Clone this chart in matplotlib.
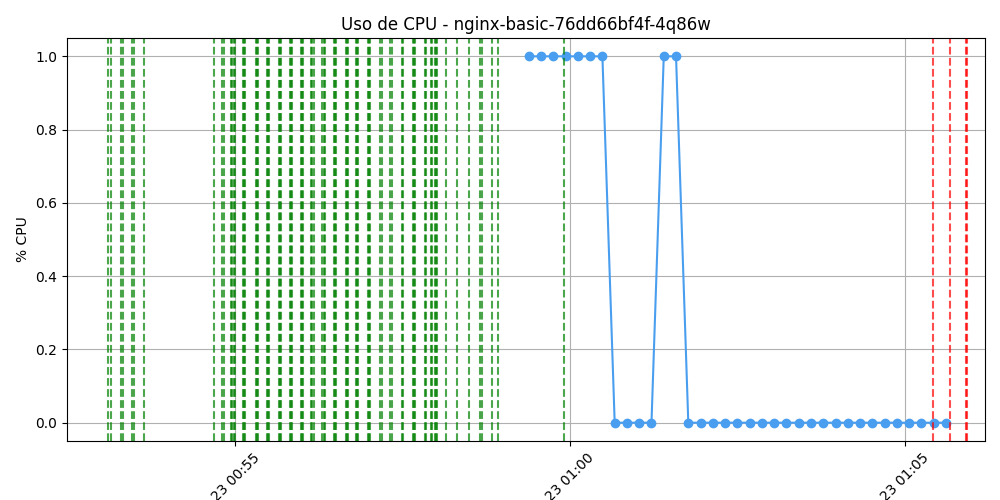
import matplotlib
matplotlib.use("Agg")
import matplotlib.pyplot as plt
import pandas as pd

# CPU samples (one every ~11 s)
t_start = "2024-01-23 00:59:23"
n_samples = 35
cpu = [1, 1, 1, 1, 1, 1, 1,
       0, 0, 0, 0,
       1, 1,
       0, 0, 0, 0, 0, 0, 0, 0, 0, 0, 0, 0, 0, 0, 0, 0, 0, 0, 0, 0, 0, 0]

# event markers (several events can fall within a second or two)
green_events = [
    "00:53:06", "00:53:08", "00:53:17", "00:53:19", "00:53:27", "00:53:29", "00:53:38",
    "00:54:41", "00:54:48", "00:54:50",
    "00:54:56", "00:54:57", "00:54:59", "00:55:00",
    "00:55:07", "00:55:08", "00:55:09",
    "00:55:18", "00:55:19", "00:55:20",
    "00:55:28", "00:55:29", "00:55:30",
    "00:55:39", "00:55:40", "00:55:41",
    "00:55:49", "00:55:50", "00:55:51",
    "00:55:59", "00:56:00", "00:56:01",
    "00:56:08", "00:56:09", "00:56:10",
    "00:56:18", "00:56:19", "00:56:20",
    "00:56:28", "00:56:29", "00:56:30",
    "00:56:39", "00:56:40", "00:56:41",
    "00:56:48", "00:56:49", "00:56:50",
    "00:56:59", "00:57:00", "00:57:01",
    "00:57:10", "00:57:11",
    "00:57:19", "00:57:20",
    "00:57:29", "00:57:30",
    "00:57:39", "00:57:40", "00:57:41",
    "00:57:50", "00:57:51",
    "00:57:55", "00:57:56",
    "00:57:59", "00:58:00", "00:58:01",
    "00:58:09", "00:58:19", "00:58:29",
    "00:58:39", "00:58:41",
    "00:58:50", "00:58:55",
    "00:59:55",
]
red_events = ["01:05:25", "01:05:41", "01:05:55", "01:05:56"]

day = "2024-01-23 "
times = pd.date_range(t_start, periods=n_samples, freq="11s")

fig, ax = plt.subplots(figsize=(10, 5), dpi=100)
ax.plot(times, cpu, marker="o", color="#4a9eef", linewidth=1.5, markersize=6)

for e in green_events:
    ax.axvline(pd.Timestamp(day + e), color="green", linestyle="--", alpha=0.7)
for e in red_events:
    ax.axvline(pd.Timestamp(day + e), color="red", linestyle="--", alpha=0.7)

ax.set_title("Uso de CPU - nginx-basic-76dd66bf4f-4q86w")
ax.set_ylabel("% CPU")
ax.set_xlim(pd.Timestamp(day + "00:52:29"), pd.Timestamp(day + "01:06:12"))
ax.set_ylim(-0.05, 1.05)
ax.grid(True)
plt.xticks(rotation=45)
fig.subplots_adjust(left=0.067, right=0.985, top=0.924, bottom=0.118)
fig.savefig("out.png")
